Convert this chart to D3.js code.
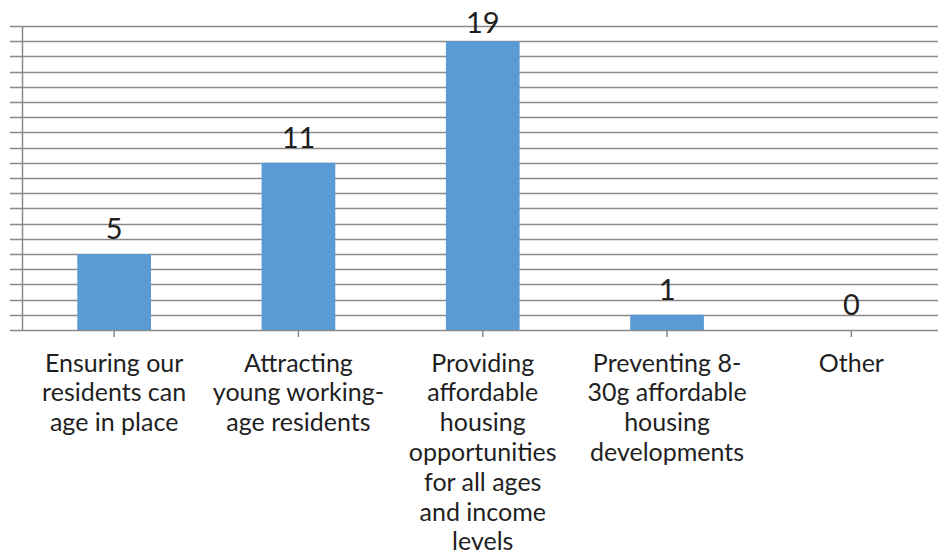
<!DOCTYPE html>
<html>
<head>
<meta charset="utf-8">
<script src="https://cdn.jsdelivr.net/npm/d3@7"></script>
<style>
  html, body { margin: 0; padding: 0; background: #fff; }
  svg { display: block; }
  text { font-family: "Lato", "Open Sans", sans-serif; fill: #1f1f1f; }
</style>
</head>
<body>
<svg id="chart" width="938" height="556"></svg>
<script>
// Responses per priority
const categories = [
  ["Ensuring our", "residents can", "age in place"],
  ["Attracting", "young working-", "age residents"],
  ["Providing", "affordable", "housing", "opportunities", "for all ages", "and income", "levels"],
  ["Preventing 8-", "30g affordable", "housing", "developments"],
  ["Other"]
];
const values = [5, 11, 19, 1, 0];
const yTicks = d3.range(0, 21, 1);

const svg = d3.select("#chart");
const plotLeft = 22, plotTop = 26, plotBottom = 330, plotRight = 943.5;

const keys = categories.map((c, i) => i);
const x = d3.scaleBand().domain(keys).range([plotLeft, plotRight]).paddingInner(0).paddingOuter(0);
const barW = x.bandwidth() / 2.5;
const y = d3.scaleLinear().domain([0, 20]).range([plotBottom, plotTop]);

// Horizontal gridlines, extending left past the axis as tick marks
svg.append("g")
  .selectAll("line")
  .data(yTicks)
  .join("line")
  .attr("x1", plotLeft - 12)
  .attr("x2", 938)
  .attr("y1", d => Math.round(y(d)) + 0.5)
  .attr("y2", d => Math.round(y(d)) + 0.5)
  .attr("stroke", "#8a8a8a")
  .attr("stroke-width", 1.5);

// Vertical axis line
svg.append("line")
  .attr("x1", plotLeft + 0.5).attr("x2", plotLeft + 0.5)
  .attr("y1", y(20)).attr("y2", y(0))
  .attr("stroke", "#8a8a8a").attr("stroke-width", 1.5);

// Bars
svg.append("g")
  .selectAll("rect")
  .data(values)
  .join("rect")
  .attr("x", (d, i) => x(i) + (x.bandwidth() - barW) / 2)
  .attr("width", barW)
  .attr("y", d => y(d))
  .attr("height", d => y(0) - y(d))
  .attr("fill", "#5b9bd5");

// Category tick marks
const xAxis = d3.axisBottom(x).tickSize(7).tickFormat("");
const gx = svg.append("g").attr("transform", `translate(0,${plotBottom})`).call(xAxis);
gx.select(".domain").remove();
gx.selectAll(".tick line").attr("stroke", "#8a8a8a").attr("stroke-width", 1.5);

// Value labels, kept inside the top of the chart
svg.append("g")
  .selectAll("text")
  .data(values)
  .join("text")
  .attr("x", (d, i) => x(i) + x.bandwidth() / 2)
  .attr("y", d => Math.max(y(d) - 15, 33))
  .attr("text-anchor", "middle")
  .attr("font-size", 29)
  .text(d => d);

// Category labels, one tspan per line
const lab = svg.append("g")
  .selectAll("text")
  .data(categories)
  .join("text")
  .attr("x", (d, i) => x(i) + x.bandwidth() / 2)
  .attr("y", 371.5)
  .attr("text-anchor", "middle")
  .attr("font-size", 25);
lab.selectAll("tspan")
  .data(d => d)
  .join("tspan")
  .attr("x", function () { return this.parentNode.getAttribute("x"); })
  .attr("dy", (d, j) => j === 0 ? 0 : 29.8)
  .text(d => d);
</script>
</body>
</html>
